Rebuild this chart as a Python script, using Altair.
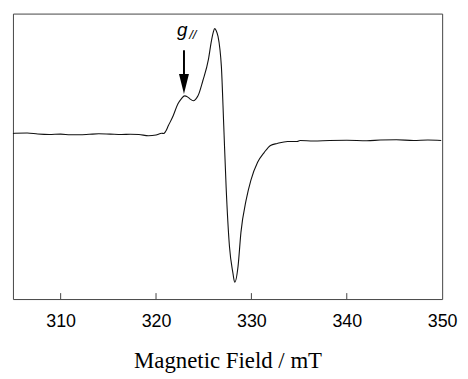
import altair as alt
import pandas as pd

# EPR spectrum (field in mT, intensity in arbitrary units)
field = [305.0, 305.2, 306.5, 307.6, 308.8, 310.0, 311.0, 312.0, 313.0, 314.0, 315.2, 316.4,
         317.3, 318.2, 319.2, 320.0, 320.6, 320.8, 321.0, 321.3, 321.8, 322.3, 322.65, 323.0,
         323.3, 323.55, 323.9, 324.15, 324.4, 324.9, 325.5, 325.8, 326.0, 326.15, 326.3, 326.5,
         326.7, 326.85, 327.1, 327.35, 327.7, 328.05, 328.25, 328.6, 328.9, 329.45, 329.95,
         330.65, 331.35, 332.0, 332.7, 333.8, 334.8, 335.1, 336.5, 338.2, 340.0, 342.1, 343.5,
         345.2, 347.0, 348.5, 349.9]
intensity = [0.0, 0.3, 0.5, -0.5, -1.0, -0.6, -1.2, -1.3, -0.8, -0.3, -0.6, -0.9,
             -0.8, -1.0, -2.3, -1.5, 0.3, 0.0, 2.0, 8.0, 18.0, 30.0, 35.0, 38.0,
             37.0, 35.0, 33.0, 34.5, 38.0, 53.0, 75.0, 93.0, 102.0, 106.0, 104.0, 98.0,
             85.0, 68.0, 8.0, -54.0, -114.0, -140.0, -150.0, -134.0, -100.0, -67.0, -47.0,
             -29.0, -19.0, -12.0, -10.0, -8.0, -8.0, -7.0, -7.5, -7.0, -6.8, -7.3, -6.6,
             -6.3, -7.0, -6.5, -7.0]

tick_values = [310, 320, 330, 340, 350]
inner_ticks = [310, 320, 330, 340]

x_domain = [305, 350]
y_domain = [-167, 121]

spec = pd.DataFrame({"field": field, "intensity": intensity})
ticks = pd.DataFrame({"t": inner_ticks})

W, H = 433, 288

xs = alt.Scale(domain=x_domain, nice=False, zero=False)
ys = alt.Scale(domain=y_domain, nice=False, zero=False)

line = alt.Chart(spec).mark_line(color="#111111", strokeWidth=1.1, interpolate="monotone").encode(
    x=alt.X("field:Q", scale=xs,
            axis=alt.Axis(values=tick_values, title="Magnetic Field / mT", domain=False,
                          ticks=False, grid=False, labelFont="Liberation Sans",
                          labelFontSize=18, labelColor="#000000", labelPadding=14,
                          labelFlush=False, labelOverlap=False,
                          titleFont="Liberation Serif", titleFontSize=23,
                          titleFontWeight="normal", titleColor="#000000",
                          titleBaseline="alphabetic", titleY=69)),
    y=alt.Y("intensity:Q", scale=ys, axis=None),
)

tick_marks = alt.Chart(ticks).mark_rule(color="#444444", strokeWidth=1).encode(
    x=alt.X("t:Q", scale=xs),
    y=alt.value(H - 6),
    y2=alt.value(H),
)

arrow_df = pd.DataFrame({"x": [322.93], "y1": [84.0], "y2": [58.0]})
shaft = alt.Chart(arrow_df).mark_rule(color="#000000", strokeWidth=2).encode(
    x=alt.X("x:Q", scale=xs), y=alt.Y("y1:Q", scale=ys), y2="y2:Q"
)
head_df = pd.DataFrame({"x": [322.93], "y": [50.0]})
head = alt.Chart(head_df).mark_point(
    shape="M-0.5,-1 L0.5,-1 L0,1 Z", size=400, filled=True, color="#000000", opacity=1
).encode(x=alt.X("x:Q", scale=xs), y=alt.Y("y:Q", scale=ys))

g_df = pd.DataFrame({"x": [322.75], "y": [98.0], "s": ["g"]})
g_text = alt.Chart(g_df).mark_text(
    font="Liberation Sans", fontSize=19, fontStyle="italic", baseline="alphabetic", color="#000000"
).encode(x=alt.X("x:Q", scale=xs), y=alt.Y("y:Q", scale=ys), text="s:N")

par_df = pd.DataFrame({"x": [323.85], "y": [95.0], "s": ["//"]})
par_text = alt.Chart(par_df).mark_text(
    font="Liberation Sans", fontSize=13, fontStyle="italic", baseline="alphabetic", color="#000000"
).encode(x=alt.X("x:Q", scale=xs), y=alt.Y("y:Q", scale=ys), text="s:N")

chart = alt.layer(line, tick_marks, shaft, head, g_text, par_text).properties(
    width=W, height=H,
    autosize=alt.AutoSizeParams(type="none"),
    padding={"left": 5, "top": 4, "right": 18, "bottom": 79},
    background="white",
).configure_view(stroke="#444444", strokeWidth=1)

chart.save("out.html", embed_options={"renderer": "svg", "actions": False})
